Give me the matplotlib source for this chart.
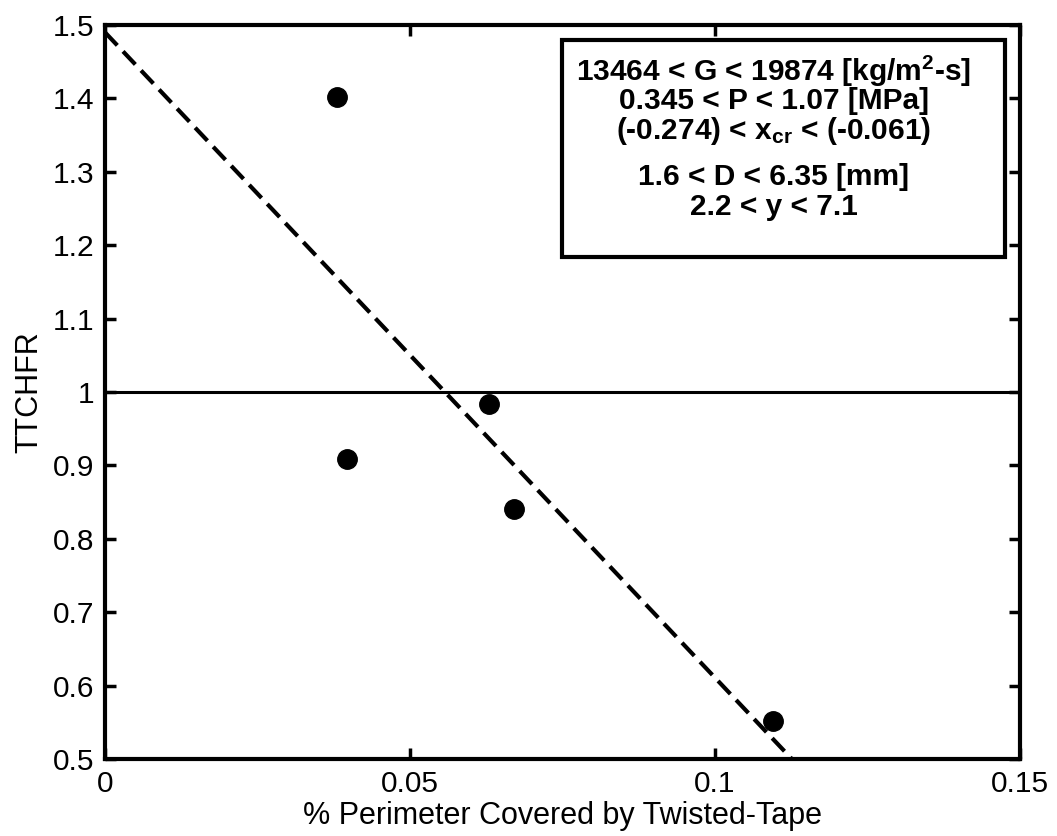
import matplotlib
matplotlib.use("Agg")
import matplotlib.pyplot as plt
from matplotlib.patches import Rectangle
import numpy as np

plt.rcParams['font.family'] = ['Liberation Sans', 'DejaVu Sans']
plt.rcParams['mathtext.fontset'] = 'custom'
plt.rcParams['mathtext.rm'] = 'Liberation Sans:bold'
plt.rcParams['mathtext.it'] = 'Liberation Sans:bold'
plt.rcParams['mathtext.bf'] = 'Liberation Sans:bold'
plt.rcParams['mathtext.default'] = 'rm'

# data
x_pts = [0.0380, 0.0396, 0.0630, 0.0670, 0.1095]
y_pts = [1.402, 0.909, 0.983, 0.841, 0.552]
fit_x = [0.0, 0.1126]
fit_y = [1.49, 0.50]
ref_y = 1.0
xticks = [0, 0.05, 0.1, 0.15]
xtick_labels = ['0', '0.05', '0.1', '0.15']
yticks = [0.5, 0.6, 0.7, 0.8, 0.9, 1.0, 1.1, 1.2, 1.3, 1.4, 1.5]
ytick_labels = ['0.5', '0.6', '0.7', '0.8', '0.9', '1', '1.1', '1.2', '1.3', '1.4', '1.5']
box_lines = [r'13464 < G < 19874 [kg/m$^{2}$-s]',
             '0.345 < P < 1.07 [MPa]',
             r'(-0.274) < x$_{cr}$ < (-0.061)',
             '1.6 < D < 6.35 [mm]',
             '2.2 < y < 7.1']

fig = plt.figure(figsize=(10.57, 8.36), dpi=100)
ax = fig.add_axes([105/1057, 1-759/836, 915/1057, 734/836])

ax.axhline(ref_y, color='black', lw=2.2)
ax.plot(fit_x, fit_y, color='black', lw=3, dashes=(4.3, 2.0))
ax.plot(x_pts, y_pts, 'o', color='black', markersize=14)

ax.set_xlim(0, 0.15)
ax.set_ylim(0.5, 1.5)
ax.set_xticks(xticks)
ax.set_xticklabels(xtick_labels)
ax.set_yticks(yticks)
ax.set_yticklabels(ytick_labels)
ax.tick_params(direction='in', length=8, width=2.5, labelsize=21.5, pad=8,
               top=True, right=True)
for s in ax.spines.values():
    s.set_linewidth(3)

ax.set_xlabel('% Perimeter Covered by Twisted-Tape', fontsize=22, labelpad=2)
ax.set_ylabel('TTCHFR', fontsize=22, labelpad=6)

ax.add_patch(Rectangle((0.4995, 0.684), 0.4841, 0.2956, transform=ax.transAxes,
                       fill=False, edgecolor='black', lw=3))
ys = [0.937, 0.897, 0.856, 0.793, 0.752]
for t, yy in zip(box_lines, ys):
    ax.text(0.731, yy, t, transform=ax.transAxes, ha='center', va='center',
            fontsize=21.5, fontweight='bold')

fig.savefig('out.png', dpi=100)
